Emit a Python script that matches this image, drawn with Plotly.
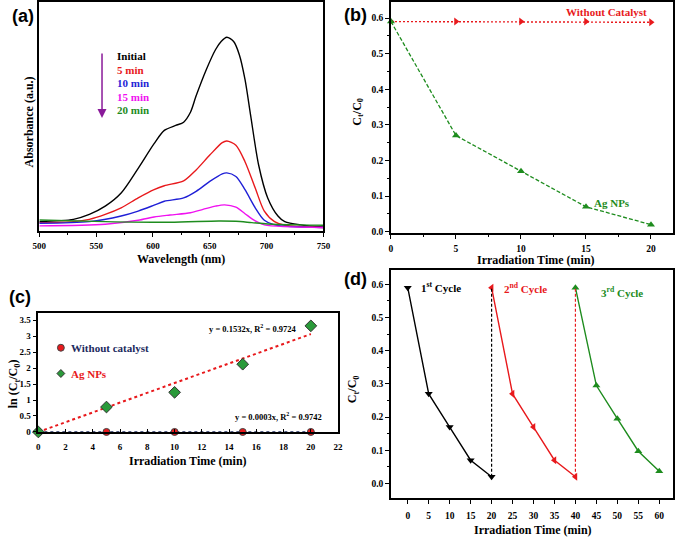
import plotly.graph_objects as go

# (a) UV-vis spectra (absorbance in a.u.)
wl_initial = [500, 530, 544, 558, 572, 587, 601, 610, 620, 627, 633, 638, 647, 655, 660, 665, 671, 676, 681, 686, 693, 701, 710, 716, 730, 750]
abs_initial = [0.056, 0.070, 0.100, 0.150, 0.230, 0.380, 0.530, 0.610, 0.640, 0.660, 0.720, 0.820, 0.980, 1.100, 1.150, 1.176, 1.150, 1.070, 0.920, 0.700, 0.400, 0.200, 0.090, 0.056, 0.036, 0.024]
wl_5 = [500, 530, 544, 558, 572, 587, 601, 610, 627, 638, 650, 661, 665, 673, 681, 690, 698, 707, 716, 750]
abs_5 = [0.050, 0.056, 0.070, 0.100, 0.140, 0.200, 0.250, 0.274, 0.304, 0.370, 0.460, 0.536, 0.546, 0.520, 0.420, 0.260, 0.120, 0.056, 0.034, 0.020]
wl_10 = [500, 544, 572, 587, 601, 610, 627, 638, 650, 661, 665, 673, 681, 690, 698, 707, 750]
abs_10 = [0.046, 0.056, 0.090, 0.120, 0.156, 0.180, 0.200, 0.240, 0.300, 0.346, 0.352, 0.330, 0.250, 0.140, 0.064, 0.036, 0.020]
wl_15 = [500, 558, 587, 601, 615, 633, 644, 655, 663, 673, 681, 690, 698, 750]
abs_15 = [0.030, 0.040, 0.064, 0.084, 0.096, 0.110, 0.130, 0.150, 0.158, 0.144, 0.104, 0.060, 0.036, 0.020]
wl_20 = [500, 558, 615, 658, 673, 687, 701, 730, 750]
abs_20 = [0.066, 0.056, 0.052, 0.060, 0.058, 0.050, 0.042, 0.036, 0.034]
spectra_names = ["Initial", "5 min", "10 min", "15 min", "20 min"]

# (b) C_t/C_0 vs time
time_b = [0, 5, 10, 15, 20]
ct_no_cat = [0.59, 0.59, 0.59, 0.59, 0.588]
ct_ag = [0.59, 0.27, 0.17, 0.07, 0.02]

# (c) kinetics ln(C_t/C_0)
time_c = [0, 5, 10, 15, 20]
ln_no_cat = [0, 0, 0, 0, 0]
ln_ag = [0, 0.78, 1.24, 2.12, 3.32]
fit_x = [0, 20]
fit_ag = [0, 3.064]
fit_no_cat = [0, 0.006]

# (d) recycling
cycle1_x = [0, 5, 10, 15, 20]
cycle1_y = [0.59, 0.27, 0.17, 0.07, 0.02]
cycle2_x = [20, 25, 30, 35, 40]
cycle2_y = [0.59, 0.27, 0.17, 0.07, 0.02]
cycle3_x = [40, 45, 50, 55, 60]
cycle3_y = [0.59, 0.295, 0.195, 0.097, 0.037]

W, H = 685, 540
SERIF = "Liberation Serif"
SANS = "Liberation Sans"
RED = "#e8191c"
GREEN = "#1e8c1e"
BLUE = "#1f1fd6"
MAGENTA = "#f011f0"
NAVY = "#1c2a5e"


def px(x, y):
    return x / W, 1 - y / H


def note(fig, x, y, text, size=11, color="black", xanchor="center", angle=0, family=SERIF, bold=True):
    xp, yp = px(x, y)
    fig.add_annotation(x=xp, y=yp, xref="paper", yref="paper", text=text, showarrow=False,
                       xanchor=xanchor, yanchor="middle", textangle=angle,
                       font=dict(family=family, size=size, color=color, weight="bold" if bold else "normal"))


def axis_style(**kw):
    d = dict(showline=True, mirror=True, linecolor="black", linewidth=1.5, showgrid=False,
             zeroline=False, ticks="outside", ticklen=4, tickwidth=1, tickcolor="black",
             tickfont=dict(family=SERIF, size=9.5, color="black", weight="bold"))
    d.update(kw)
    return d


fig = go.Figure()

# (a)
for wl, ab, col, nm in zip([wl_initial, wl_5, wl_10, wl_15, wl_20],
                           [abs_initial, abs_5, abs_10, abs_15, abs_20],
                           ["black", RED, BLUE, MAGENTA, GREEN], spectra_names):
    fig.add_trace(go.Scatter(x=wl, y=ab, mode="lines", name=nm, line=dict(color=col, width=1.4, shape="spline", smoothing=0.8),
                             xaxis="x", yaxis="y", showlegend=False))

# (b)
fig.add_trace(go.Scatter(x=time_b, y=ct_no_cat, mode="lines+markers", line=dict(color=RED, width=1.4, dash="2px,2px"),
                         marker=dict(symbol="triangle-right", size=7, color=RED), cliponaxis=False,
                         xaxis="x2", yaxis="y2", showlegend=False))
fig.add_trace(go.Scatter(x=time_b, y=ct_ag, mode="lines+markers", line=dict(color=GREEN, width=1.3, dash="4px,2px"),
                         marker=dict(symbol="triangle-up", size=7, color=GREEN), cliponaxis=False,
                         xaxis="x2", yaxis="y2", showlegend=False))

# (c)
fig.add_trace(go.Scatter(x=fit_x, y=fit_ag, mode="lines", line=dict(color=RED, width=2, dash="dot"),
                         xaxis="x3", yaxis="y3", showlegend=False))
fig.add_trace(go.Scatter(x=fit_x, y=fit_no_cat, mode="lines", line=dict(color=NAVY, width=1.2, dash="dot"),
                         xaxis="x3", yaxis="y3", showlegend=False))
fig.add_trace(go.Scatter(x=time_c, y=ln_no_cat, mode="markers", cliponaxis=False,
                         marker=dict(symbol="circle", size=7, color=RED, line=dict(color="#444", width=1)),
                         xaxis="x3", yaxis="y3", showlegend=False))
fig.add_trace(go.Scatter(x=time_c, y=ln_ag, mode="markers", cliponaxis=False,
                         marker=dict(symbol="diamond", size=9, color="#2a9a3a", line=dict(color="#333", width=1)),
                         xaxis="x3", yaxis="y3", showlegend=False))

# (d)
for cx, cy, col, sym in [(cycle1_x, cycle1_y, "black", "triangle-down"),
                         (cycle2_x, cycle2_y, RED, "triangle-left"),
                         (cycle3_x, cycle3_y, GREEN, "triangle-up")]:
    fig.add_trace(go.Scatter(x=cx, y=cy, mode="lines+markers", line=dict(color=col, width=1.4),
                             marker=dict(symbol=sym, size=7, color=col), cliponaxis=False,
                             xaxis="x4", yaxis="y4", showlegend=False))
for a_x, a_y, b_x, b_y, col in [(cycle1_x, cycle1_y, cycle2_x, cycle2_y, "black"),
                                (cycle2_x, cycle2_y, cycle3_x, cycle3_y, RED)]:
    fig.add_trace(go.Scatter(x=[a_x[-1], b_x[0]], y=[a_y[-1], b_y[0]], mode="lines",
                             line=dict(color=col, width=1.2, dash="3px,2px"),
                             xaxis="x4", yaxis="y4", showlegend=False))

fig.update_layout(
    width=W, height=H, margin=dict(l=0, r=0, t=0, b=0),
    paper_bgcolor="white", plot_bgcolor="white",
    xaxis=axis_style(domain=[33 / W, 323 / W], anchor="y", range=[500, 750], tickvals=[500, 550, 600, 650, 700, 750],
                     tickfont=dict(family=SERIF, size=9, color="black", weight="bold"), ticklabelstandoff=2,
                     minor=dict(dtick=25, ticks="outside", ticklen=2, tickcolor="black")),
    yaxis=axis_style(domain=[1 - 233 / H, 1 - 2 / H], anchor="x", range=[0, 1.39], showticklabels=False, ticks=""),
    xaxis2=axis_style(domain=[392 / W, 680 / W], anchor="y2", range=[0, 21.7], tickvals=[0, 5, 10, 15, 20],
                      ticklabelstandoff=2,
                      minor=dict(dtick=2.5, ticks="outside", ticklen=2, tickcolor="black")),
    yaxis2=axis_style(domain=[1 - 235 / H, 1 - 2 / H], anchor="x2", range=[-0.003, 0.645], dtick=0.1, tickformat=".1f",
                      minor=dict(dtick=0.05, ticks="outside", ticklen=2, tickcolor="black")),
    xaxis3=axis_style(domain=[32 / W, 338 / W], anchor="y3", range=[0, 22], dtick=2, ticks="inside", ticklen=3,
                      ticklabelstandoff=5, tickfont=dict(family=SERIF, size=9, color="black", weight="bold")),
    yaxis3=axis_style(domain=[1 - 436 / H, 1 - 316 / H], anchor="x3", range=[0, 3.72], dtick=0.5,
                      tickfont=dict(family=SERIF, size=9, color="black", weight="bold")),
    xaxis4=axis_style(domain=[392 / W, 680 / W], anchor="y4", range=[-4, 63.3], dtick=5, ticklabelstandoff=4),
    yaxis4=axis_style(domain=[1 - 503 / H, 1 - 273 / H], anchor="x4", range=[-0.045, 0.642], dtick=0.1, tickformat=".1f",
                      minor=dict(dtick=0.05, ticks="outside", ticklen=2, tickcolor="black")),
)

# panel labels
for lx, ly, t in [(16, 16, "(a)"), (356, 15, "(b)"), (13, 300, "(c)"), (356, 282, "(d)")]:
    note(fig, lx, ly, t, size=18, family=SANS)

# axis titles
note(fig, 178, 261, "Wavelength (nm)", size=12)
note(fig, 22, 123, "Absorbance (a.u.)", size=12, angle=-90)
note(fig, 540, 262, "Irradiation Time (min)", size=12)
note(fig, 358, 113, "C<sub>t</sub>/C<sub>0</sub>", size=12, angle=-90)
note(fig, 185, 465, "Irradiation Time (min)", size=12)
note(fig, 8, 387, "ln (C<sub>t</sub>/C<sub>0</sub>)", size=12, angle=-90)
note(fig, 537, 535, "Irradiation Time (min)", size=12)
note(fig, 354, 393, "C<sub>t</sub>/C<sub>0</sub>", size=12, angle=-90)

# (a) legend with arrow
for i, (t, col) in enumerate(zip(spectra_names, ["black", RED, BLUE, MAGENTA, GREEN])):
    note(fig, 110, 57 + i * 13.5, t, size=11, color=col, xanchor="left")
hx, hy = px(97, 119)
fig.add_annotation(x=hx, y=hy, xref="paper", yref="paper", ax=0, ay=-66, text="", showarrow=True,
                   arrowhead=2, arrowsize=1.2, arrowwidth=1.5, arrowcolor="#8a1a9a")

# (b) labels
note(fig, 612, 12, "Without Catalyst", size=11, color=RED)
note(fig, 618, 205, "Ag NPs", size=11, color=GREEN)

# (c) key and equations
cx, cy = px(55, 351)
fig.add_shape(type="circle", xref="paper", yref="paper", x0=cx - 3.5 / W, x1=cx + 3.5 / W, y0=cy - 3.5 / H, y1=cy + 3.5 / H,
              fillcolor=RED, line=dict(color="#444", width=1))
dx, dy = px(55, 377)
fig.add_shape(type="path", xref="paper", yref="paper",
              path=f"M {dx - 4 / W} {dy} L {dx} {dy + 4 / H} L {dx + 4 / W} {dy} L {dx} {dy - 4 / H} Z",
              fillcolor="#2a9a3a", line=dict(color="#333", width=1))
note(fig, 63, 351, "Without catalyst", size=11, color=NAVY, xanchor="left")
note(fig, 63, 377, "Ag NPs", size=11, color=RED, xanchor="left")
note(fig, 251, 332, "y = 0.1532x, R<sup>2</sup> = 0.9724", size=8.5)
note(fig, 277, 420, "y = 0.0003x, R<sup>2</sup> = 0.9742", size=8.5)

# (d) cycle labels
note(fig, 421, 290, "1<sup>st</sup> Cycle", size=11, xanchor="left")
note(fig, 505, 291, "2<sup>nd</sup> Cycle", size=11, color=RED, xanchor="left")
note(fig, 604, 295, "3<sup>rd</sup> Cycle", size=11, color=GREEN, xanchor="left")

# page body has a default 8px margin; drop it so the figure fills the window
fig.write_html("out.html", config={"displayModeBar": False},
               post_script="document.body.style.margin='0';")
